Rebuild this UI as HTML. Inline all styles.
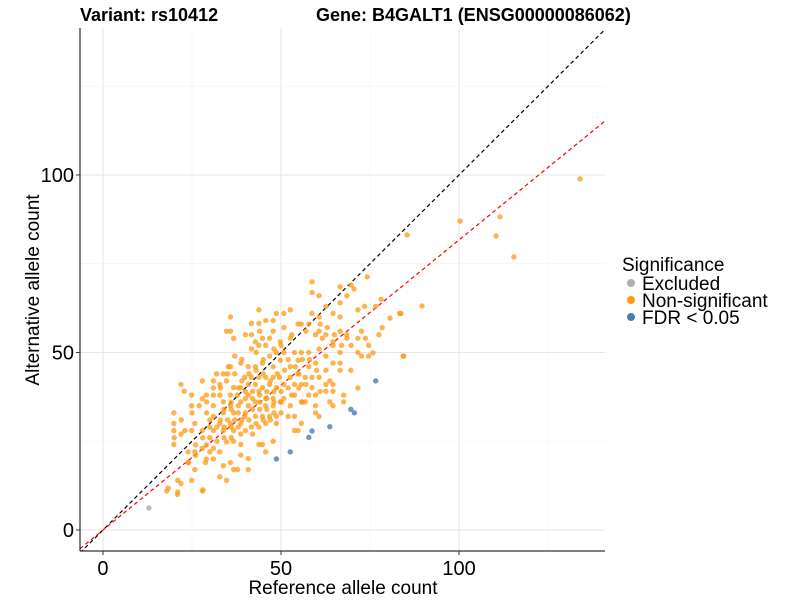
<!DOCTYPE html>
<html><head><meta charset="utf-8"><style>body{margin:0;background:#fff}svg{display:block;font-family:"Liberation Sans",sans-serif}</style></head>
<body>
<svg id="chart" width="800" height="600" xmlns="http://www.w3.org/2000/svg">
<g id="grid"></g>
<g id="lines"></g>
<g id="pts"></g>
<g id="axes"></g>
<text x="80" y="21" font-size="18" font-weight="bold">Variant: rs10412</text>
<text x="316" y="21" font-size="18" font-weight="bold">Gene: B4GALT1 (ENSG00000086062)</text>
<text x="343" y="594" font-size="19" text-anchor="middle">Reference allele count</text>
<text transform="translate(39,290) rotate(-90)" font-size="19" text-anchor="middle">Alternative allele count</text>
<g>
<text x="622" y="271" font-size="19">Significance</text>
<circle cx="631" cy="283" r="4" fill="#b0b0b0"/><text x="642" y="290" font-size="19">Excluded</text>
<circle cx="631" cy="300" r="4" fill="#ff9a14"/><text x="642" y="307" font-size="19">Non-significant</text>
<circle cx="631" cy="317" r="4" fill="#4a7db5"/><text x="642" y="324" font-size="19">FDR &lt; 0.05</text>
</g>
</svg>
<script>
const xTicks=[0,50,100];
const yTicks=[0,50,100];
const gridVals=[0,25,50,75,100,125];
const fitSlope=0.817;
const orangeX=[58.7,58.7,60.7,69.7,68.5,66.6,62.6,73.5,76.6,71.6,83.3,35.8,43.8,48.7,50.8,52.6,58.7,60.7,64.6,66.6,41.7,43.8,45.7,47.8,54.8,55.7,57.8,34.7,35.8,41.7,47.8,50.8,59.7,60.7,62.6,66.6,68.5,72.6,78.4,77.5,36.7,42.8,44.8,46.8,49.8,52.6,61.6,64.6,68.5,71.6,73.7,41.7,43.8,45.7,46.8,48.7,50.8,53.8,55.7,57.8,60.7,64.6,66.6,69.7,71.6,74.6,72.6,74.6,84.5,38.7,40.8,42.8,44.8,47.8,49.8,52.6,54.8,57.8,59.7,62.6,64.6,66.6,66.6,62.6,35.2,35.8,31.9,33.8,39.8,41.7,43.8,45.7,47.8,49.6,52.6,54.8,56.8,58.7,60.7,63.7,69.6,27.9,31,32.8,34.7,36.7,38.7,40.8,42.8,44.8,46.8,48.7,50.8,53.8,55.7,58.7,62.6,64.6,71.6,21.9,22.8,24.9,27.9,31,32.8,35.8,37.8,40.8,43.8,45.7,47.8,50.8,53.8,57.8,59.7,62.6,64.6,67.6,24.9,29.1,31,33.8,35.8,38.7,40.8,42.8,45.7,47.8,49.8,52.6,55.7,56.8,59.7,63.7,64.6,67.6,19.9,29.1,31,33.8,36.7,39.8,42.8,44.8,46.8,48.7,53.8,59.7,60.7,19.9,25.8,30,32.8,35.8,38.7,41.7,43.8,45.7,48.7,55.7,19.9,21.9,24.9,27.9,31,33.8,36.7,38.7,53.8,54.8,19.9,23.9,25.8,27.9,30,32.8,34.7,36.7,38.7,43.8,44.8,47.8,45.7,38.7,40.8,23.9,28.8,35.8,33.8,25.8,36.7,37.8,40.8,21,21.9,24.9,32.8,34.7,17.9,20.9,27.9,134,100.3,111.5,110.4,115.4,85.4,89.6,84.3,83.7,78.1,74.2,70.5,66.6,80.6,75.8,18.3,21,28.1,
37,39,41,43,45,47,49,51,38,40,42,44,46,48,50,52,36,38,40,42,44,46,48,50,34,36,38,40,42,44,46,48,33,35,37,39,41,43,45,47,30,32,34,36,38,40,42,28,30,32,34,36,26,29,31,26,29,31,24,52,54,56,58,60,55,57,61,56,50,52,53,55,45,43,39,37,35,33,31,29,27,25,22,23,20,63,65,67,61,57,53,50,48,44,40];
const orangeY=[69.9,66.9,66,69,66,64,63,63,63,62,61,60,62,61,61,62,61,60,61,60,58.2,58.2,59,59,58,58,58,56,56,55,56,57,55,56,55,56,55,56,57,55,54,53,54,54,53,54,54,53,54,54,54,51,52,52,49,50,50,50,50,50,51,52,50,52,50,52,49,49,49,47,46,46,47,46,47.8,46,47.8,46,47,49,47,47,45,45,46,46,44,44,43,43,43,43,43,43,43,44,43,43,43,42,45,42,42,41,42,40.1,40.1,41,41,40.1,41,40.1,41,41,41,40.1,41,41,40,41,39.1,38,37,38,38,38,38,38,39.1,37,37,37,38,38,38,39.1,39.1,38,35,36.1,35,36.1,35,36.1,35,36.1,35,35,36.1,35,36.1,36.1,35,36.1,35,36.1,33,33,32,33,33,32,32,32,32,32,32,33,32,30,30,31,30,30,30,29,29,30,30,30,28,27,28,28,28,28,28,27,28,28,24.1,22,22,23,22,22,24.8,25,24.1,24.1,24.1,25,22,21.1,20.1,19,19,19,18.1,17,17,17,17,14,13.1,14,15,14,11,10,11,98.9,87,88.2,82.8,76.9,83.1,63.1,49,61,65,71.3,67.9,68.5,59.7,49.9,11.8,10.7,11.3,
44,42,44,45,44,42,44,45,40,39,39,38,39,39,39,40,36,35,37,37,36,37,36,36,34,34,33,33,34,34,34,33,31,31,31,31,31,30,31,31,29,29,29,29,29,28,27,26,26,25,26,26,24,24,23,21,20,20,19,48,46,48,48,45,44,41,39,36,33,32,38,40,48,50,48,49,44,40,40,38,35,33,31,28,26,57,55,52,58,56,55,52,51,56,55];
const blueX=[48.7,52.6,57.8,58.7,63.7,69.6,70.6,76.6];
const blueY=[20,22,26.1,27.9,29.1,34,33,42];
const greyX=[12.9];
const greyY=[6.2];
const L=80,R=605,T=28,B=551;
const xMin=-6.46,xMax=141.0,yMin=-5.92,yMax=141.4;
const sx=v=>L+(v-xMin)/(xMax-xMin)*(R-L);
const sy=v=>B-(v-yMin)/(yMax-yMin)*(B-T);
const NS="http://www.w3.org/2000/svg";
function mk(p,t,a){const e=document.createElementNS(NS,t);for(const k in a)e.setAttribute(k,a[k]);p.appendChild(e);return e;}
const grid=document.getElementById('grid');
gridVals.forEach(v=>{
 const major=v%50===0;const c=major?'#e6e6e6':'#f2f2f2';
 let g1=mk(grid,'line',{x1:sx(v),x2:sx(v),y1:T,y2:B,stroke:c,'stroke-width':major?1:0.6});
 
 
 let g2=mk(grid,'line',{x1:L,x2:R,y1:sy(v),y2:sy(v),stroke:c,'stroke-width':major?1:0.6});
 
 
});
const lines=document.getElementById('lines');
const clip=mk(lines,'clipPath',{id:'cp'});mk(clip,'rect',{x:L,y:T,width:R-L,height:B-T});
let d1=mk(lines,'line',{x1:sx(xMin),y1:sy(xMin),x2:sx(xMax),y2:sy(xMax),stroke:'#000','stroke-dasharray':'4,3','stroke-width':1.2,'clip-path':'url(#cp)'});


let d2=mk(lines,'line',{x1:sx(xMin),y1:sy(xMin*fitSlope),x2:sx(xMax),y2:sy(xMax*fitSlope),stroke:'#ff0000','stroke-dasharray':'4,3','stroke-width':1.2,'clip-path':'url(#cp)'});


const pts=document.getElementById('pts');
function draw(xs,ys,col,name){xs.forEach((x,i)=>{const c=mk(pts,'circle',{cx:sx(x),cy:sy(ys[i]),r:2.7,fill:col,'fill-opacity':0.75});
 
 });}
draw(greyX,greyY,'#a6a6a6','point-excluded');
draw(orangeX,orangeY,'#ff9a14','point-non-significant');
draw(blueX,blueY,'#3f74ad','point-fdr');
const ax=document.getElementById('axes');
mk(ax,'line',{x1:L,x2:L,y1:T,y2:B,stroke:'#000','stroke-width':1});
mk(ax,'line',{x1:L,x2:R,y1:B,y2:B,stroke:'#000','stroke-width':1});
xTicks.forEach(v=>{mk(ax,'line',{x1:sx(v),x2:sx(v),y1:B,y2:B+4,stroke:'#333'});
 const t=mk(ax,'text',{x:sx(v),y:B+24,'font-size':20,'text-anchor':'middle',fill:'#000'});t.textContent=v;
 
 });
yTicks.forEach(v=>{mk(ax,'line',{x1:L-4,x2:L,y1:sy(v),y2:sy(v),stroke:'#333'});
 const t=mk(ax,'text',{x:L-6,y:sy(v)+7,'font-size':20,'text-anchor':'end',fill:'#000'});t.textContent=v;
 
 });
</script>
</body></html>
